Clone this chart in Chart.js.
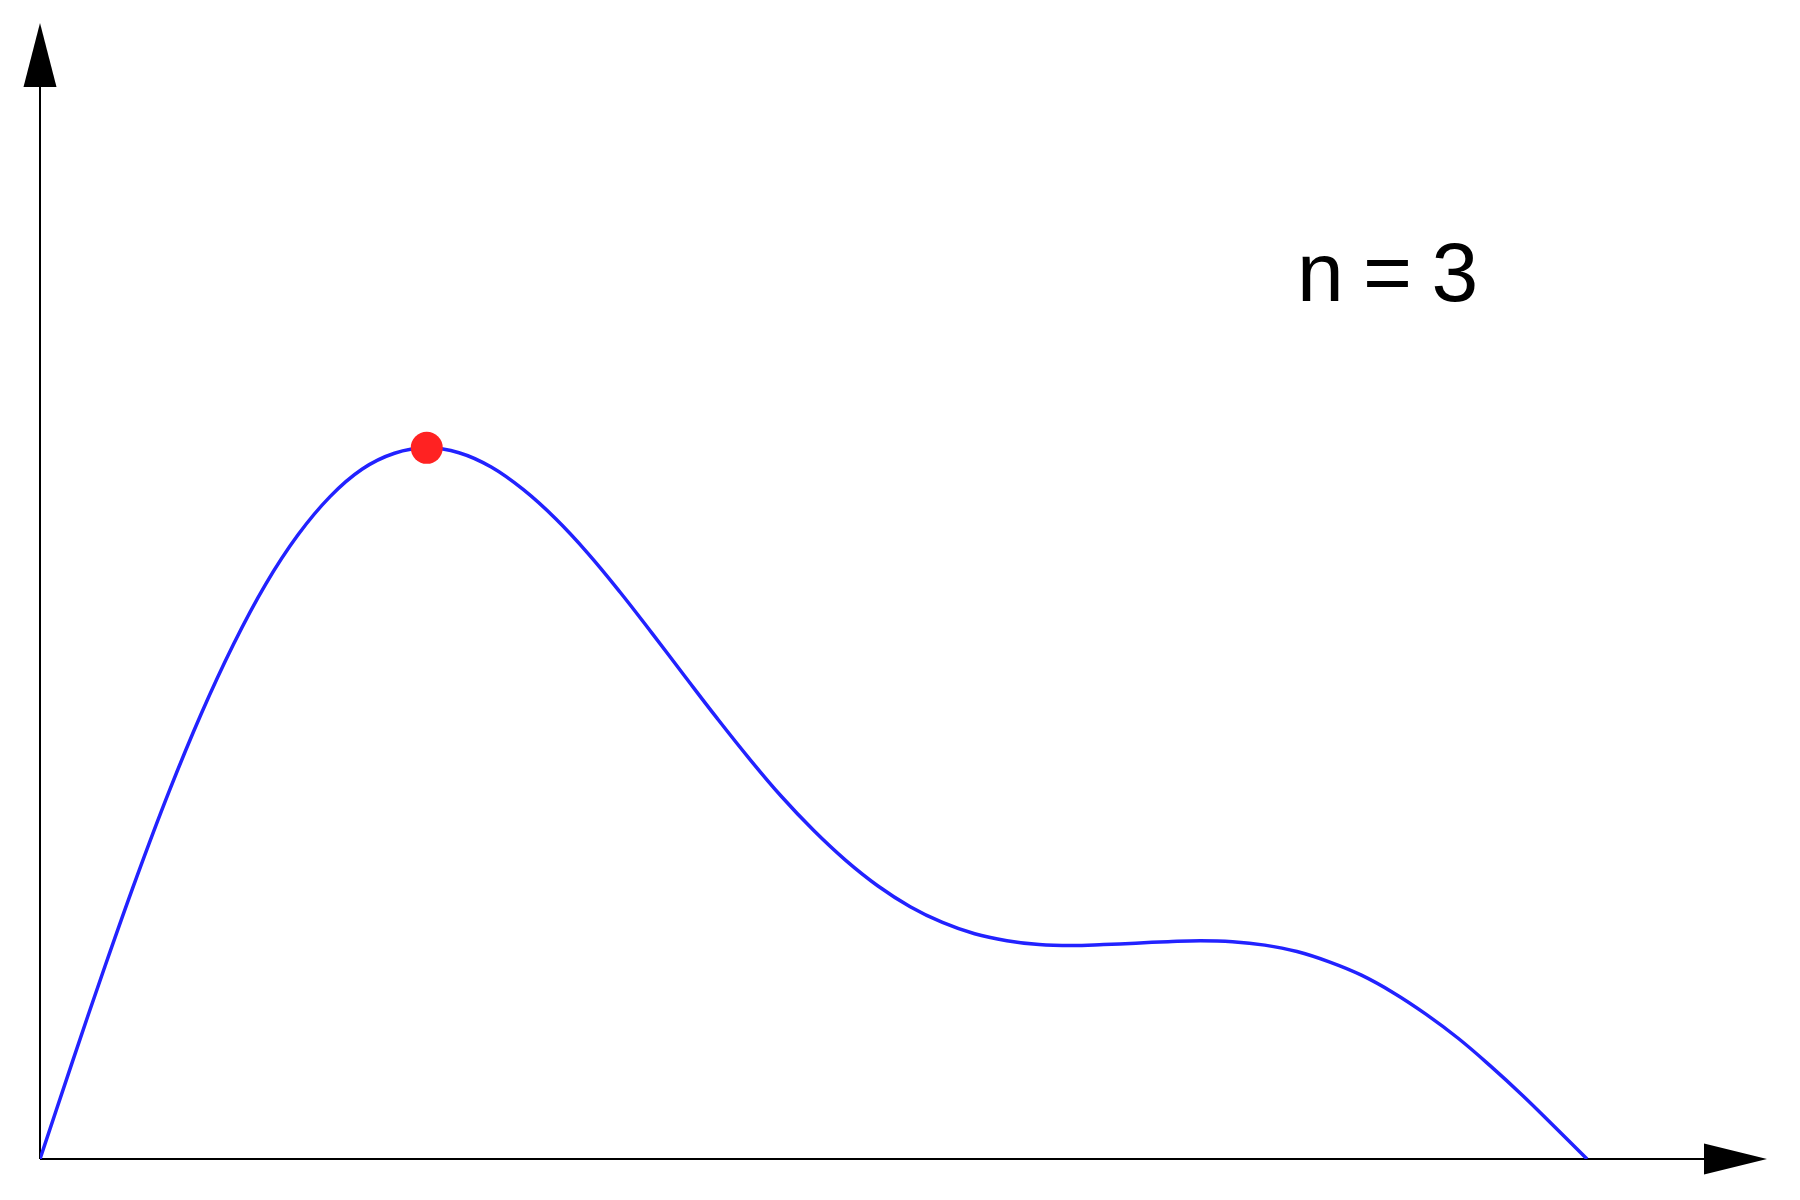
<!DOCTYPE html>
<html>
<head>
<meta charset="utf-8">
<script src="https://cdn.jsdelivr.net/npm/chart.js@4.4.0/dist/chart.umd.min.js"></script>
<style>
  html, body { margin: 0; padding: 0; background: #fff; }
  #wrap { width: 1800px; height: 1200px; }
</style>
</head>
<body>
<div id="wrap"><canvas id="curve-chart" width="1800" height="1200"></canvas></div>
<script>
// Curve samples (x from 0 to pi)
const xValues = [0, 0.0654, 0.1309, 0.1963, 0.2618, 0.3272, 0.3927, 0.4581, 0.5236,
    0.5890, 0.6545, 0.7199, 0.7854, 0.8508, 0.9163, 0.9817, 1.0472, 1.1126,
    1.1781, 1.2435, 1.3090, 1.3744, 1.4399, 1.5053, 1.5708, 1.6362, 1.7017,
    1.7671, 1.8326, 1.8980, 1.9635, 2.0289, 2.0944, 2.1598, 2.2253, 2.2907,
    2.3562, 2.4216, 2.4871, 2.5525, 2.6180, 2.6834, 2.7489, 2.8143, 2.8798,
    2.9452, 3.0107, 3.0761, 3.1416];
const yValues = [0, 0.196, 0.388, 0.572, 0.745, 0.903, 1.044, 1.166, 1.266,
    1.344, 1.400, 1.432, 1.443, 1.433, 1.404, 1.358, 1.299, 1.229,
    1.150, 1.066, 0.980, 0.895, 0.813, 0.736, 0.667, 0.606, 0.554,
    0.512, 0.480, 0.457, 0.443, 0.435, 0.433, 0.435, 0.438, 0.441,
    0.443, 0.441, 0.434, 0.421, 0.400, 0.373, 0.337, 0.294, 0.245,
    0.189, 0.129, 0.065, 0];

// The red marker at the top of the hump
const peakX = [0.7854];
const peakY = [1.443];

const label = 'n = 3';

// Axis lines with arrow heads, drawn under the curve
const arrowAxes = {
    id: 'arrowAxes',
    beforeDatasetsDraw(chart) {
        const { ctx, chartArea, scales } = chart;
        const x0 = scales.x.getPixelForValue(0);
        const y0 = scales.y.getPixelForValue(0);
        ctx.save();
        ctx.strokeStyle = '#000';
        ctx.fillStyle = '#000';
        ctx.lineWidth = 2;
        ctx.beginPath();
        ctx.moveTo(x0, y0);
        ctx.lineTo(x0, chartArea.top + 60);
        ctx.moveTo(x0, y0);
        ctx.lineTo(chartArea.right - 60, y0);
        ctx.stroke();
        // y arrow
        ctx.beginPath();
        ctx.moveTo(x0, chartArea.top);
        ctx.lineTo(x0 - 16.5, chartArea.top + 64);
        ctx.lineTo(x0 + 16.5, chartArea.top + 64);
        ctx.closePath();
        ctx.fill();
        // x arrow
        ctx.beginPath();
        ctx.moveTo(chartArea.right, y0);
        ctx.lineTo(chartArea.right - 63, y0 - 15.5);
        ctx.lineTo(chartArea.right - 63, y0 + 15.5);
        ctx.closePath();
        ctx.fill();
        ctx.restore();
    },
    afterDraw(chart) {
        const { ctx } = chart;
        ctx.save();
        ctx.fillStyle = '#000';
        ctx.font = '84px "Liberation Sans", Arial, sans-serif';
        ctx.letterSpacing = '-2px';
        ctx.textBaseline = 'alphabetic';
        ctx.fillText(label, 1297, 301);
        ctx.restore();
    }
};

const ctx = document.getElementById('curve-chart').getContext('2d');

const curveChart = new Chart(ctx, {
    type: 'line',
    data: {
        datasets: [
            {
                data: peakX.map((x, i) => ({ x: x, y: peakY[i] })),
                showLine: false,
                pointRadius: 16,
                pointBackgroundColor: '#ff2222',
                pointBorderWidth: 0,
                order: 0,
            },
            {
                data: xValues.map((x, i) => ({ x: x, y: yValues[i] })),
                borderColor: '#2222ff',
                borderWidth: 3.5,
                pointRadius: 0,
                tension: 0.4,
                fill: false,
                order: 1,
            },
        ],
    },
    options: {
        responsive: false,
        animation: false,
        devicePixelRatio: 1,
        layout: { padding: { left: 40, right: 33, top: 23, bottom: 41 } },
        scales: {
            x: { type: 'linear', min: 0, max: 3.507, display: false },
            y: { min: 0, max: 2.305, display: false },
        },
        plugins: {
            legend: { display: false },
            tooltip: { enabled: false },
        },
    },
    plugins: [arrowAxes],
});
</script>
</body>
</html>
